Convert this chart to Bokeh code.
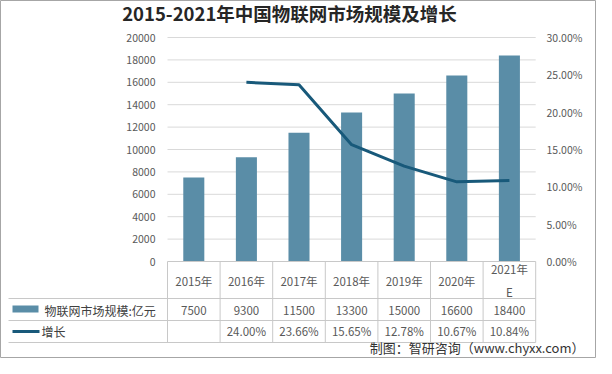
from bokeh.plotting import figure
from bokeh.models import Range1d
from bokeh.core.properties import value
from bokeh.embed import file_html
from bokeh.resources import INLINE

# ---------------- data ----------------
years = ["2015年", "2016年", "2017年", "2018年", "2019年", "2020年", "2021年\nE"]
market = [7500, 9300, 11500, 13300, 15000, 16600, 18400]          # 亿元
growth = [None, 24.00, 23.66, 15.65, 12.78, 10.67, 10.84]          # %
market_labels = ["7500", "9300", "11500", "13300", "15000", "16600", "18400"]
growth_labels = ["", "24.00%", "23.66%", "15.65%", "12.78%", "10.67%", "10.84%"]
left_ticks = [0, 2000, 4000, 6000, 8000, 10000, 12000, 14000, 16000, 18000, 20000]
right_ticks = [0, 5, 10, 15, 20, 25, 30]
right_labels = ["0.00%", "5.00%", "10.00%", "15.00%", "20.00%", "25.00%", "30.00%"]
series_names = ["物联网市场规模:亿元", "增长"]
title_text = "2015-2021年中国物联网市场规模及增长"
source_text = "制图：智研咨询（www.chyxx.com）"

# ---------------- layout (page pixels) ----------------
W, H = 596, 358
OX, OY = 8, 8
COL = 52.6          # category width in px
X0 = 175            # plot left edge
Y0 = 269            # zero line
PXV = 224 / 20000   # px per value unit
PCT_MAX = 30
VAL_MAX = 20000

def dx(px):
    return (px - (X0 + COL / 2)) / COL

def dy(py):
    return (Y0 - py) / PXV

FONT = value("Noto Sans CJK SC")
TXT = "#595959"
BAR = "#5A8DA7"
LINE = "#18597A"
GRID = "#D9D9D9"
TBL = "#C8C8C8"

idx = list(range(len(years)))

p = figure(width=W, height=H,
           x_range=Range1d(dx(OX), dx(OX + W)),
           y_range=Range1d(dy(OY + H), dy(OY)),
           x_axis_location=None, y_axis_location=None,
           output_backend="svg", toolbar_location=None, min_border=0)
p.grid.visible = False
p.outline_line_color = "#A6A6A6"
p.background_fill_color = "white"
p.extra_y_ranges = {"pct": Range1d(dy(OY + H) * PCT_MAX / VAL_MAX, dy(OY) * PCT_MAX / VAL_MAX)}

n = len(years)
# gridlines
p.segment(x0=[-0.5] * (len(left_ticks) - 1), x1=[n - 0.5] * (len(left_ticks) - 1),
          y0=left_ticks[1:], y1=left_ticks[1:], line_color=GRID, line_width=1)

# bars
p.vbar(x=idx, top=market, width=0.4, fill_color=BAR, line_color=None)

# growth line
p.line(x=idx[1:], y=growth[1:], y_range_name="pct", line_color=LINE, line_width=3,
       line_join="round")

# left axis labels
p.text(x=[dx(163)] * len(left_ticks), y=left_ticks, text=[str(t) for t in left_ticks],
       text_align="right", text_baseline="middle", text_font=FONT,
       text_font_size="10.5px", text_color=TXT)
# right axis labels
p.text(x=[dx(554)] * len(right_ticks), y=right_ticks, text=right_labels,
       y_range_name="pct", text_align="left", text_baseline="middle", text_font=FONT,
       text_font_size="10.5px", text_color=TXT)

# table: zero/axis line and row lines
row_lines = [dy(306), dy(328), dy(350)]
p.segment(x0=[-0.5], x1=[n - 0.5], y0=[0], y1=[0], line_color=TBL, line_width=1)
p.segment(x0=[dx(16)] * 3, x1=[n - 0.5] * 3, y0=row_lines, y1=row_lines,
          line_color=TBL, line_width=1)
vx = [k - 0.5 for k in range(n + 1)]
p.segment(x0=vx, x1=vx, y0=[0] * len(vx), y1=[dy(350)] * len(vx),
          line_color=TBL, line_width=1)

# table texts
p.text(x=idx, y=[dy(288)] * n, text=years, text_align="center", text_baseline="middle",
       text_font=FONT, text_font_size="11.5px", text_color=TXT, text_line_height=1.4)
p.text(x=idx, y=[dy(317.5)] * n, text=market_labels, text_align="center",
       text_baseline="middle", text_font=FONT, text_font_size="11.5px", text_color=TXT)
p.text(x=idx, y=[dy(338.5)] * n, text=growth_labels, text_align="center",
       text_baseline="middle", text_font=FONT, text_font_size="11.5px", text_color=TXT)

# legend keys inside table
p.quad(left=[dx(20)], right=[dx(46)], bottom=[dy(320)], top=[dy(313)],
       fill_color=BAR, line_color=None)
p.segment(x0=[dx(20)], x1=[dx(47)], y0=[dy(339)], y1=[dy(339)], line_color=LINE, line_width=3)
p.text(x=[dx(52), dx(49)], y=[dy(317.5), dy(338.5)], text=series_names,
       text_align="left", text_baseline="middle", text_font=FONT,
       text_font_size="12px", text_color="#404040")

# title
p.text(x=[dx(297)], y=[dy(20)], text=[title_text], text_align="center",
       text_baseline="middle", text_font=FONT, text_font_size="18.5px",
       text_font_style="bold", text_color="#262626")

# source
p.text(x=[dx(592)], y=[dy(354.5)], text=[source_text], text_align="right",
       text_baseline="middle", text_font=FONT, text_font_size="13px",
       text_color="#333333")

open("out.html", "w").write(file_html(p, INLINE))
